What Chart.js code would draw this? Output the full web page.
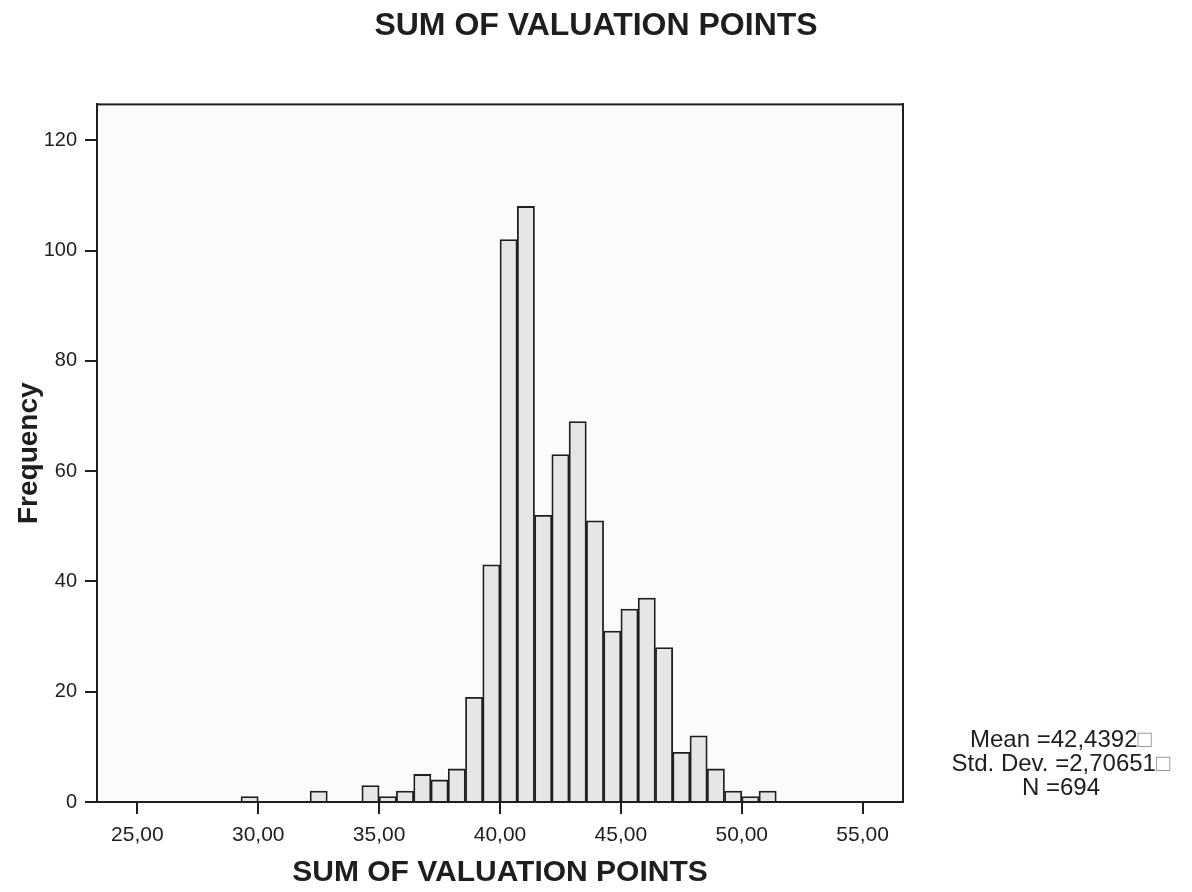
<!DOCTYPE html>
<html>
<head>
<meta charset="utf-8">
<title>Sum of valuation points</title>
<script src="https://cdn.jsdelivr.net/npm/chart.js@4.4.0/dist/chart.umd.min.js"></script>
<style>
  html, body { margin: 0; padding: 0; background: #fff; }
  #wrap { width: 1192px; height: 892px; position: relative; }
</style>
</head>
<body>
<div id="wrap"><canvas id="histChart"></canvas></div>
<script>
// histogram bins (centres, bin width 5/7) and counts
const binCenters = [29.643, 32.500, 34.643, 35.357, 36.071, 36.786, 37.500, 38.214,
                    38.929, 39.643, 40.357, 41.071, 41.786, 42.500, 43.214, 43.929,
                    44.643, 45.357, 46.071, 46.786, 47.500, 48.214, 48.929, 49.643,
                    50.357, 51.071];
const frequencies = [1, 2, 3, 1, 2, 5, 4, 6,
                     19, 43, 102, 108, 52, 63, 69, 51,
                     31, 35, 37, 28, 9, 12, 6, 2,
                     1, 2];
const xTicks = [25, 30, 35, 40, 45, 50, 55];
const yTicks = [0, 20, 40, 60, 80, 100, 120];
const xRange = [23.33, 56.67];
const yMax = 126.5;

const chartTitle = 'SUM OF VALUATION POINTS';
const xTitle = 'SUM OF VALUATION POINTS';
const yTitle = 'Frequency';
const statsLines = ['Mean =42,4392', 'Std. Dev. =2,70651', 'N =694'];
const statsMarks = ['\u25A1', '\u25A1', ''];

const INK = '#1e1e1e';
Chart.defaults.font.family = '"Liberation Sans", Arial, sans-serif';

// plot background + box around the plot area, like the SPSS frame
const framePlugin = {
    id: 'frame',
    beforeDatasetsDraw(chart) {
        const {ctx, chartArea: a} = chart;
        ctx.save();
        ctx.fillStyle = '#fbfbfb';
        ctx.fillRect(a.left, a.top, a.right - a.left, a.bottom - a.top);
        ctx.restore();
    },
    afterDatasetsDraw(chart) {
        const {ctx, chartArea: a} = chart;
        ctx.save();
        ctx.strokeStyle = INK;
        ctx.lineWidth = 2;
        ctx.strokeRect(a.left, a.top, a.right - a.left, a.bottom - a.top);
        ctx.restore();
    }
};

// Mean / Std. Dev. / N block to the right of the plot
const statsPlugin = {
    id: 'stats',
    afterDraw(chart) {
        const {ctx, chartArea: a} = chart;
        ctx.save();
        ctx.font = '24px "Liberation Sans", Arial, sans-serif';
        ctx.textBaseline = 'middle';
        ctx.textAlign = 'left';
        const cx = a.right + 158;
        statsLines.forEach((line, i) => {
            const y = a.bottom - 62 + i * 24;
            const w1 = ctx.measureText(line).width;
            const w2 = statsMarks[i] ? ctx.measureText(statsMarks[i]).width : 0;
            const x0 = cx - (w1 + w2) / 2;
            ctx.fillStyle = INK;
            ctx.fillText(line, x0, y);
            if (statsMarks[i]) {
                ctx.fillStyle = '#9a9a9a';
                ctx.fillText(statsMarks[i], x0 + w1, y);
            }
        });
        ctx.restore();
    }
};

const fmtComma = v => v.toFixed(2).replace('.', ',');

const ctx = document.getElementById('histChart').getContext('2d');
new Chart(ctx, {
    type: 'bar',
    data: {
        datasets: [{
            label: 'Frequency',
            data: binCenters.map((x, i) => ({x: x, y: frequencies[i]})),
            backgroundColor: '#e6e6e6',
            borderColor: INK,
            borderWidth: 1.8,
            borderSkipped: 'start',
            barPercentage: 1,
            categoryPercentage: 1
        }]
    },
    options: {
        responsive: true,
        maintainAspectRatio: false,
        animation: false,
        layout: {
            padding: 0
        },
        plugins: {
            legend: {display: false},
            tooltip: {enabled: false},
            title: {
                display: true,
                text: chartTitle,
                color: INK,
                font: {size: 32, weight: 'bold'},
                padding: {top: 7, bottom: 59}
            }
        },
        scales: {
            x: {
                type: 'linear',
                min: xRange[0],
                max: xRange[1],
                offset: false,
                grid: {
                    offset: false,
                    drawOnChartArea: false,
                    drawTicks: true,
                    tickLength: 12,
                    color: INK,
                    lineWidth: 2
                },
                border: {display: true, color: INK, width: 2},
                afterBuildTicks: scale => {
                    scale.ticks = xTicks.map(v => ({value: v}));
                },
                ticks: {
                    color: INK,
                    font: {size: 21},
                    padding: 9,
                    maxRotation: 0,
                    autoSkip: false,
                    callback: v => fmtComma(v)
                },
                title: {
                    display: true,
                    text: xTitle,
                    color: INK,
                    font: {size: 30, weight: 'bold'},
                    padding: {top: 0, bottom: 1}
                },
                afterFit: scale => { scale.height = 90; }
            },
            y: {
                min: 0,
                max: yMax,
                grid: {
                    drawOnChartArea: false,
                    drawTicks: true,
                    tickLength: 12,
                    color: INK,
                    lineWidth: 2
                },
                border: {display: true, color: INK, width: 2},
                afterBuildTicks: scale => {
                    scale.ticks = yTicks.map(v => ({value: v}));
                },
                ticks: {
                    color: INK,
                    font: {size: 20},
                    padding: 8,
                    autoSkip: false
                },
                title: {
                    display: true,
                    text: yTitle,
                    color: INK,
                    font: {size: 28, weight: 'bold'},
                    padding: {top: 12, bottom: 0}
                },
                afterFit: scale => { scale.width = 97; }
            },
            // empty right-hand axis: closes the frame and leaves room for the stats
            yRight: {
                position: 'right',
                min: 0,
                max: yMax,
                grid: {display: false},
                ticks: {display: false},
                border: {display: true, color: INK, width: 2},
                afterFit: scale => { scale.width = 289; }
            }
        }
    },
    plugins: [framePlugin, statsPlugin]
});
</script>
</body>
</html>
